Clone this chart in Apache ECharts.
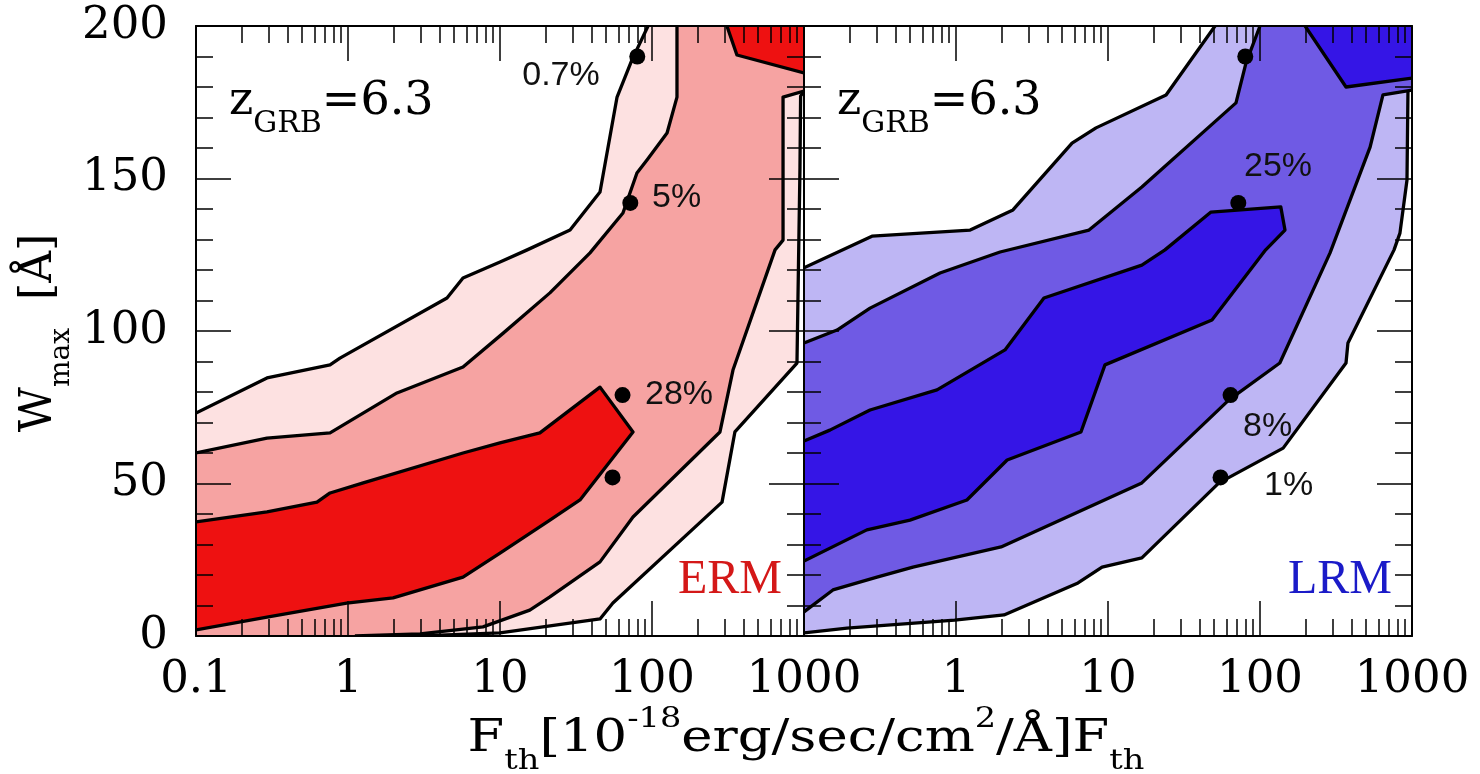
<!DOCTYPE html>
<html><head><meta charset="utf-8">
<script src="https://cdn.jsdelivr.net/npm/echarts@6/dist/echarts.min.js"></script>
<style>html,body{margin:0;padding:0;background:#fff;}#c{width:1480px;height:774px;}</style>
</head><body><div id="c"></div>
<script>
// ---------- data ----------
const xTickLabels = ['0.1', '1', '10', '100', '1000'];
const yTickLabels = ['0', '50', '100', '150', '200'];

// ERM panel contours, points are [F_th, W_max]
const erm07Upper = [[0.1,73.1],[0.293,84.6],[0.762,88.9],[0.885,91.1],[4.48,110.8],[5.71,117.4],[10,122.6],[15.1,126.6],[28.9,133.1],[45.5,145.6],[58.9,176.7],[73.8,188.9],[94.2,200]];
const erm07Lower = [[1000,178.7],[950,177],[941,153.8],[899,89.5],[351,66.9],[289,43.9],[55.3,10.8],[45.5,5.6],[10,1.0],[2.98,0]];
const erm5Upper = [[0.1,60.0],[0.293,64.9],[0.762,66.6],[2.10,79.7],[5.71,88.2],[10.5,99.3],[21.3,112.5],[39.1,125.6],[64.4,138.7],[79.6,151.8],[92.7,156.1],[125.6,164.9],[146,176.7],[146,200]];
const erm5Lower = [[1000,178.7],[728,176.7],[728,129.8],[645,126.6],[341,87.2],[280,66.9],[75,39.0],[45.5,24.3],[21.3,12.8],[15.7,8.5],[7.73,3.0],[2.98,0.7],[1.11,0]];
const erm28Loop = [[0.1,37.4],[0.293,40.7],[0.625,43.9],[0.762,46.9],[1.26,50.2],[5.71,60.0],[10,63.3],[18.3,66.6],[45.5,81.6],[75,66.9],[33.6,44.6],[21.3,38.0],[10,27.2],[5.71,19.3],[1.98,12.5],[0.98,10.8],[0.293,6.2],[0.1,2.0]];
const erm28Top = [[311,200],[362,190.5],[1000,184.6]];

// LRM panel contours
const lrm1Upper = [[0.1,120.7],[0.280,131.1],[1.24,133.1],[2.37,139.7],[5.80,161.6],[8.34,166.6],[24.1,177.4],[50.6,200]];
const lrm1Lower = [[1000,179.7],[941,179.0],[927,149.5],[833,132.1],[762,126.6],[379,96.1],[368,89.5],[142,61.6],[53.7,50.2],[16.7,25.6],[9.14,22.6],[6.35,17.4],[2.07,6.9],[0.98,5.2],[0.192,2.6],[0.1,1.0]];
const lrm8Upper = [[0.1,96.1],[0.165,100.3],[0.272,107.5],[0.785,119.0],[1.95,125.9],[7.50,133.1],[16.7,147.2],[69.5,174.8],[80.9,187.9],[100,200]];
const lrm8Lower = [[1000,179.0],[644,177.4],[530,160.3],[289,125.6],[135,89.5],[62.5,77.4],[16.7,50.2],[1.98,29.2],[0.521,22.6],[0.302,19.3],[0.155,15.1],[0.1,7.9]];
const lrm25Loop = [[0.1,63.9],[0.148,67.5],[0.272,74.1],[0.750,80.7],[2.10,93.8],[3.79,110.8],[16.7,121.6],[23.7,126.6],[47.6,139.0],[137,140.7],[146,133.1],[109,126.6],[48.3,103.6],[9.55,88.9],[6.64,66.9],[2.17,57.7],[1.18,44.6],[0.498,38.0],[0.259,34.8],[0.1,24.6]];
const lrm25Top = [[198,200],[368,180.0],[1000,182.9]];

// marked points (same in both panels)
const dotF = [80, 72, 64, 55];
const dotW = [190, 142, 79, 52];
const ermDotLabels = ['0.7%', '5%', '28%', ''];
const lrmDotLabels = ['', '25%', '8%', '1%'];

const ermColors = ['#FDE1E1', '#F6A3A2', '#EE1111'];
const lrmColors = ['#BEB6F4', '#6F5AE4', '#3515E6'];

// ---------- chart ----------
const TOPR = [1000, 200], BOTL = [0.1, 0];
const serif = 'DejaVu Serif';
const minorLog = [];
for (let n = -1; n < 3; n++) for (let k = 2; k < 10; k++) minorLog.push(n + Math.log10(k));

const tickStyle = {color: '#000', width: 1.5};
function xAxesFor(gi, hideFirst) {
  return [
    {type: 'log', logBase: 10, min: 0.1, max: 1000, gridIndex: gi, position: 'bottom', z: 10,
     axisLine: {onZero: false, lineStyle: {color: '#000', width: 2}},
     axisTick: {inside: true, length: 35, lineStyle: tickStyle},
     axisLabel: {margin: 22, fontFamily: serif, fontSize: 45, color: '#000',
       formatter: (v, i) => (hideFirst && i === 0) ? '' : xTickLabels[i]},
     splitLine: {show: false}},
    {type: 'value', min: -1, max: 3, gridIndex: gi, position: 'bottom', z: 10,
     axisLine: {show: false, onZero: false},
     axisTick: {inside: true, length: 17, lineStyle: tickStyle, customValues: minorLog},
     axisLabel: {show: false}, splitLine: {show: false}},
    {type: 'value', min: -1, max: 3, interval: 1, gridIndex: gi, position: 'top', z: 10,
     axisLine: {onZero: false, lineStyle: {color: '#000', width: 2}},
     axisTick: {inside: true, length: 35, lineStyle: tickStyle},
     axisLabel: {show: false}, splitLine: {show: false}},
    {type: 'value', min: -1, max: 3, gridIndex: gi, position: 'top', z: 10,
     axisLine: {show: false, onZero: false},
     axisTick: {inside: true, length: 17, lineStyle: tickStyle, customValues: minorLog},
     axisLabel: {show: false}, splitLine: {show: false}}
  ];
}
function yAxesFor(gi, labels) {
  const base = (pos, showLab) => ({type: 'value', min: 0, max: 200, interval: 50, gridIndex: gi, position: pos, z: 10,
    axisLine: {onZero: false, lineStyle: {color: '#000', width: 2}},
    axisTick: {inside: true, length: 35, lineStyle: tickStyle},
    minorTick: {show: true, splitNumber: 5, length: 17, lineStyle: tickStyle},
    axisLabel: {show: showLab, margin: 28, fontFamily: serif, fontSize: 45, color: '#000',
      formatter: (v, i) => yTickLabels[i]},
    splitLine: {show: false}, minorSplitLine: {show: false}});
  return [base('left', labels), base('right', false)];
}

function region(xi, yi, poly, lines, color, z) {
  return {type: 'custom', coordinateSystem: 'cartesian2d', xAxisIndex: xi, yAxisIndex: yi,
    clip: true, silent: true, z: z, data: poly, encode: {x: 0, y: 1},
    renderItem: (params, api) => {
      if (params.dataIndex !== 0) return null;
      const children = [{type: 'polygon', shape: {points: poly.map(p => api.coord(p))},
        style: {fill: color, stroke: null}}];
      lines.forEach(l => children.push({type: 'polyline', shape: {points: l.map(p => api.coord(p))},
        style: {stroke: '#000', lineWidth: 3.3, fill: null, lineJoin: 'round'}}));
      return {type: 'group', children};
    }};
}
function dots(xi, yi) {
  return {type: 'scatter', xAxisIndex: xi, yAxisIndex: yi, z: 20, symbolSize: 16, silent: true,
    itemStyle: {color: '#000', opacity: 1}, data: dotF.map((f, i) => [f, dotW[i]])};
}

const series = [
  region(0, 0, [...erm07Upper, TOPR, ...erm07Lower, BOTL], [erm07Upper, erm07Lower], ermColors[0], 2),
  region(0, 0, [...erm5Upper, TOPR, ...erm5Lower, BOTL], [erm5Upper, erm5Lower], ermColors[1], 3),
  region(0, 0, erm28Loop, [erm28Loop], ermColors[2], 4),
  region(0, 0, [...erm28Top, TOPR], [erm28Top], ermColors[2], 4),
  region(4, 2, [...lrm1Upper, TOPR, ...lrm1Lower], [lrm1Upper, lrm1Lower], lrmColors[0], 2),
  region(4, 2, [...lrm8Upper, TOPR, ...lrm8Lower], [lrm8Upper, lrm8Lower], lrmColors[1], 3),
  region(4, 2, lrm25Loop, [lrm25Loop], lrmColors[2], 4),
  region(4, 2, [...lrm25Top, TOPR], [lrm25Top], lrmColors[2], 4),
  dots(0, 0), dots(4, 2)
];

const richBase = {
  n: {fontFamily: serif, fontSize: 46, lineHeight: 84, color: '#000'},
  s: {fontFamily: serif, fontSize: 30, padding: [44, 0, 0, 0], color: '#000'}
};
const richTitle = {
  n: {fontFamily: serif, fontSize: 44, lineHeight: 84, color: '#000'},
  s: {fontFamily: serif, fontSize: 28, padding: [44, 0, 0, 0], color: '#000'},
  p: {fontFamily: serif, fontSize: 28, padding: [0, 0, 40, 0], color: '#000'}
};
const pct = (x, y, t, align) => ({type: 'text', x: x, y: y, z: 30,
  style: {text: t, fontFamily: 'Liberation Sans', fontSize: 34, fill: '#111', align: align, verticalAlign: 'middle'}});

const graphic = [
  {type: 'text', x: 229, y: 102, z: 30, style: {text: '{n|z}{s|GRB}{n|=6.3}', rich: richBase, align: 'left', verticalAlign: 'middle'}},
  {type: 'text', x: 837, y: 102, z: 30, style: {text: '{n|z}{s|GRB}{n|=6.3}', rich: richBase, align: 'left', verticalAlign: 'middle'}},
  {type: 'text', x: 40, y: 333, rotation: Math.PI / 2, z: 30,
   style: {text: '{n|W}{s|max}{n|  [Å]}', rich: richTitle, align: 'center', verticalAlign: 'middle'}},
  {type: 'text', x: 806, y: 740, scaleX: 1.2, z: 30,
   style: {text: '{n|F}{s|th}{n|[10}{p|-18}{n|erg/sec/cm}{p|2}{n|/Å]F}{s|th}', rich: richTitle, align: 'center', verticalAlign: 'middle'}},
  {type: 'text', x: 678, y: 580, z: 30, style: {text: 'ERM', fontFamily: 'Liberation Serif', fontSize: 48, fill: '#D41818', align: 'left', verticalAlign: 'middle'}},
  {type: 'text', x: 1288, y: 580, z: 30, style: {text: 'LRM', fontFamily: 'Liberation Serif', fontSize: 48, fill: '#1B1BC8', align: 'left', verticalAlign: 'middle'}},
  pct(561, 76, ermDotLabels[0], 'center'),
  pct(652, 198, ermDotLabels[1], 'left'),
  pct(645, 395, ermDotLabels[2], 'left'),
  pct(1244, 167, lrmDotLabels[1], 'left'),
  pct(1243, 427, lrmDotLabels[2], 'left'),
  pct(1264, 486, lrmDotLabels[3], 'left')
];

const chart = echarts.init(document.getElementById('c'), null, {renderer: 'canvas'});
chart.setOption({
  animation: false,
  backgroundColor: '#fff',
  grid: [
    {left: 196, top: 26, width: 608, height: 610},
    {left: 804, top: 26, width: 608, height: 610}
  ],
  xAxis: [...xAxesFor(0, false), ...xAxesFor(1, true)],
  yAxis: [...yAxesFor(0, true), ...yAxesFor(1, false)],
  series: series,
  graphic: graphic
});
</script></body></html>
